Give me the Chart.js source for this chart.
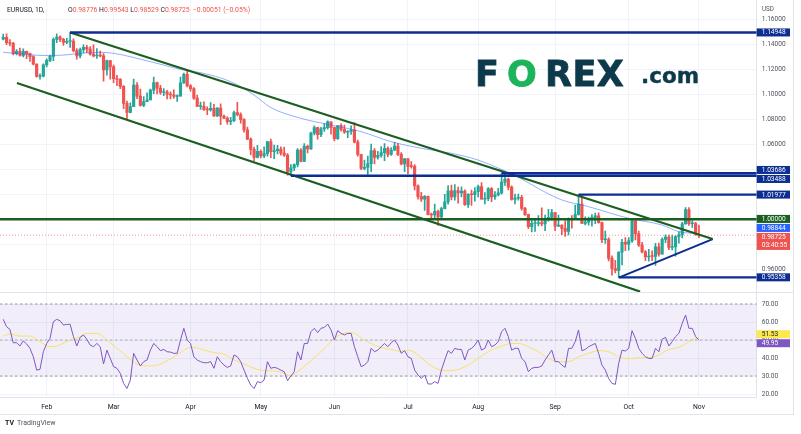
<!DOCTYPE html>
<html>
<head>
<meta charset="utf-8">
<script src="https://cdn.jsdelivr.net/npm/chart.js@4"></script>
<style>
  body { margin: 0; background: #fff; width: 801px; height: 434px; overflow: hidden; position: relative;
         font-family: Roboto, 'Noto Sans', sans-serif; color: #131722; }
  canvas { position: absolute; left: 0; }
  #priceChart { top: 0; }
  #rsiChart { top: 292px; }
  .t { position: absolute; white-space: nowrap; line-height: 1; }
  .hl { position: absolute; background: #e0e3eb; }
  .logo { position: absolute; white-space: nowrap; line-height: 1; font-family: 'DejaVu Sans', sans-serif; font-weight: bold;
          color: #0d3a4b; -webkit-text-stroke: 0.8px currentColor; }
</style>
</head>
<body>
<canvas id="priceChart" width="801" height="292"></canvas>
<canvas id="rsiChart" width="801" height="124"></canvas>
<div class="hl" style="left:0;top:292px;width:794px;height:1px"></div>
<div class="hl" style="left:0;top:414px;width:794px;height:1px"></div>
<div class="hl" style="left:793px;top:0;width:1px;height:415px"></div>

<div class="t" style="left:7px;top:7.4px;font-size:6.8px;color:#131722">EURUSD, 1D,</div>
<div class="t" style="left:68px;top:7.4px;font-size:6.8px;color:#131722">O<span style="color:#ef5350">0.98776</span>&nbsp;H<span style="color:#ef5350">0.99543</span>&nbsp;L<span style="color:#ef5350">0.98529</span>&nbsp;C<span style="color:#ef5350">0.98725&nbsp;&nbsp;−0.00051 (−0.05%)</span></div>
<div class="t" style="left:762px;top:6px;font-size:6.3px;color:#50535e">USD</div>

<div class="logo" style="left:475px;top:57px;font-size:35px">F</div>
<div class="logo" style="left:507px;top:57px;font-size:35px;color:#1cb45a">O</div>
<div class="logo" style="left:545px;top:57px;font-size:35px;letter-spacing:0.5px">REX</div>
<div class="logo" style="left:641px;top:65px;font-size:21.5px;-webkit-text-stroke:0.4px #0d3a4b">.com</div>

<div class="t" style="left:5px;top:420px;font-size:7px;font-weight:bold;color:#131722">TV</div>
<div class="t" style="left:17px;top:420px;font-size:7px;color:#50535e">TradingView</div>

<script>
// month ticks (bar index of first trading day) and labels
const monthIdx = [13, 33, 56, 77, 99, 121, 142, 165, 187, 208];
const monthLabels = ['Feb', 'Mar', 'Apr', 'May', 'Jun', 'Jul', 'Aug', 'Sep', 'Oct', 'Nov'];
const priceTicks = [0.96, 0.98, 1.00, 1.02, 1.04, 1.06, 1.08, 1.10, 1.12, 1.14, 1.16];
const rsiTicks = [20, 30, 40, 50, 60, 70];

// daily EURUSD candles, Jan 13 -> Nov 1 (bar index 0..208)
const opens = [1.1442,1.1455,1.1413,1.1408,1.1325,1.1344,1.1312,1.1343,1.1326,1.1301,
  1.1241,1.1144,1.1146,1.1235,1.1271,1.1303,1.1440,1.1457,1.1440,1.1416,
  1.1423,1.1425,1.1349,1.1307,1.1357,1.1375,1.1362,1.1322,1.1308,1.1310,
  1.1307,1.1195,1.1270,1.1219,1.1125,1.1120,1.1063,1.0928,1.0855,1.0902,
  1.1074,1.0985,1.0911,1.0941,1.0955,1.1033,1.1093,1.1050,1.1016,1.1017,
  1.1000,1.0996,1.0984,1.0985,1.1091,1.1160,1.1067,1.1046,1.0969,1.0903,
  1.0903,1.0878,1.0875,1.0888,1.0828,1.0890,1.0826,1.0810,1.0781,1.0790,
  1.0853,1.0838,1.0798,1.0715,1.0641,1.0559,1.0496,1.0544,1.0508,1.0525,
  1.0622,1.0541,1.0549,1.0561,1.0530,1.0513,1.0380,1.0412,1.0437,1.0553,
  1.0464,1.0584,1.0563,1.0690,1.0734,1.0677,1.0724,1.0733,1.0779,1.0733,
  1.0646,1.0750,1.0719,1.0697,1.0703,1.0716,1.0617,1.0519,1.0407,1.0416,
  1.0445,1.0549,1.0496,1.0512,1.0534,1.0568,1.0520,1.0553,1.0585,1.0519,
  1.0443,1.0484,1.0424,1.0423,1.0267,1.0182,1.0161,1.0184,1.0038,1.0036,
  1.0063,1.0020,1.0086,1.0140,1.0227,1.0179,1.0229,1.0211,1.0225,1.0118,
  1.0199,1.0197,1.0221,1.0262,1.0162,1.0166,1.0246,1.0180,1.0196,1.0211,
  1.0297,1.0321,1.0258,1.0159,1.0170,1.0176,1.0087,1.0037,0.9942,0.9967,
  0.9967,0.9974,0.9964,1.0008,1.0016,1.0054,0.9945,0.9953,0.9928,0.9903,
  1.0008,0.9998,1.0040,1.0121,0.9968,0.9978,0.9999,1.0016,1.0028,0.9973,
  0.9837,0.9837,0.9688,0.9605,0.9592,0.9738,0.9815,0.9802,0.9828,0.9987,
  0.9885,0.9793,0.9739,0.9700,0.9705,0.9704,0.9780,0.9722,0.9840,0.9857,
  0.9775,0.9780,0.9861,0.9877,0.9964,1.0078,0.9965,0.9965,0.98776];
const highs = [1.1482,1.1483,1.1437,1.1415,1.1357,1.1369,1.1363,1.1346,1.1329,1.1310,
  1.1244,1.1164,1.1244,1.1284,1.1313,1.1451,1.1484,1.1468,1.1447,1.1448,
  1.1495,1.1443,1.1366,1.1369,1.1395,1.1391,1.1382,1.1395,1.1366,1.1345,
  1.1325,1.1274,1.1272,1.1234,1.1152,1.1125,1.1069,1.0946,1.0932,1.1121,
  1.1093,1.1042,1.0982,1.1011,1.1042,1.1138,1.1098,1.1071,1.1045,1.1032,
  1.1020,1.1036,1.0996,1.1137,1.1170,1.1185,1.1077,1.1054,1.0993,1.0938,
  1.0939,1.0900,1.0933,1.0920,1.0893,1.0924,1.0834,1.0820,1.0815,1.0866,
  1.0936,1.0852,1.0805,1.0737,1.0652,1.0577,1.0592,1.0556,1.0580,1.0623,
  1.0641,1.0594,1.0591,1.0579,1.0578,1.0525,1.0437,1.0444,1.0565,1.0566,
  1.0606,1.0593,1.0697,1.0748,1.0737,1.0735,1.0765,1.0787,1.0780,1.0737,
  1.0750,1.0764,1.0753,1.0710,1.0748,1.0774,1.0634,1.0520,1.0474,1.0506,
  1.0601,1.0565,1.0544,1.0582,1.0606,1.0579,1.0573,1.0615,1.0606,1.0533,
  1.0487,1.0487,1.0462,1.0437,1.0276,1.0215,1.0190,1.0185,1.0050,1.0122,
  1.0074,1.0097,1.0200,1.0269,1.0274,1.0278,1.0257,1.0259,1.0235,1.0205,
  1.0234,1.0254,1.0274,1.0294,1.0214,1.0254,1.0253,1.0222,1.0248,1.0368,
  1.0364,1.0329,1.0268,1.0202,1.0201,1.0191,1.0096,1.0042,0.9998,0.9999,
  1.0029,1.0091,1.0033,1.0080,1.0079,1.0055,1.0033,0.9955,0.9988,1.0011,
  1.0029,1.0114,1.0198,1.0187,1.0019,1.0017,1.0037,1.0050,1.0052,0.9977,
  0.9906,0.9852,0.9707,0.9671,0.9740,0.9839,0.9854,0.9853,0.9999,0.9998,
  0.9906,0.9815,0.9750,0.9759,0.9748,0.9807,0.9809,0.9851,0.9876,0.9873,
  0.9874,0.9870,0.9900,0.9976,1.0094,1.0093,0.9990,0.9976,0.99543];
const lows = [1.1436,1.1397,1.1388,1.1316,1.1315,1.1305,1.1300,1.1286,1.1263,1.1235,
  1.1137,1.1121,1.1140,1.1219,1.1261,1.1270,1.1413,1.1421,1.1391,1.1405,
  1.1375,1.1340,1.1281,1.1292,1.1334,1.1333,1.1313,1.1300,1.1288,1.1299,
  1.1106,1.1153,1.1121,1.1094,1.1070,1.1045,1.0885,1.0806,1.0851,1.0902,
  1.0966,1.0906,1.0901,1.0941,1.0955,1.1005,1.1003,1.1000,1.0990,1.0963,
  1.0963,1.0967,1.0944,1.0985,1.1087,1.1059,1.1025,1.0959,1.0901,1.0880,
  1.0871,1.0838,1.0865,1.0823,1.0822,1.0758,1.0806,1.0761,1.0758,1.0781,
  1.0828,1.0770,1.0697,1.0637,1.0515,1.0470,1.0491,1.0491,1.0493,1.0505,
  1.0493,1.0485,1.0524,1.0514,1.0504,1.0354,1.0350,1.0389,1.0419,1.0460,
  1.0461,1.0532,1.0560,1.0675,1.0641,1.0662,1.0703,1.0722,1.0682,1.0627,
  1.0640,1.0705,1.0688,1.0654,1.0680,1.0611,1.0506,1.0398,1.0396,1.0359,
  1.0382,1.0444,1.0482,1.0497,1.0469,1.0499,1.0512,1.0552,1.0510,1.0436,
  1.0382,1.0365,1.0410,1.0236,1.0162,1.0144,1.0072,1.0035,0.9999,0.9998,
  0.9952,1.0006,1.0083,1.0122,1.0155,1.0153,1.0130,1.0180,1.0111,1.0095,
  1.0112,1.0146,1.0179,1.0161,1.0124,1.0150,1.0141,1.0160,1.0188,1.0202,
  1.0271,1.0235,1.0153,1.0123,1.0153,1.0074,1.0032,0.9926,0.9899,0.9903,
  0.9947,0.9948,0.9910,0.9985,0.9994,0.9910,0.9942,0.9877,0.9864,0.9876,
  0.9929,0.9997,1.0034,0.9967,0.9955,0.9954,0.9945,0.9966,0.9970,0.9813,
  0.9807,0.9668,0.9553,0.9571,0.9535,0.9636,0.9750,0.9753,0.9815,0.9836,
  0.9784,0.9731,0.9670,0.9666,0.9670,0.9632,0.9706,0.9721,0.9813,0.9757,
  0.9755,0.9705,0.9809,0.9852,0.9961,0.9952,0.9935,0.9871,0.98529];
const closes = [1.1455,1.1413,1.1408,1.1325,1.1344,1.1312,1.1343,1.1326,1.1301,1.1241,
  1.1144,1.1146,1.1235,1.1271,1.1303,1.1440,1.1457,1.1440,1.1416,1.1423,
  1.1425,1.1349,1.1307,1.1357,1.1375,1.1362,1.1322,1.1308,1.1310,1.1307,
  1.1195,1.1270,1.1219,1.1125,1.1120,1.1063,1.0928,1.0855,1.0902,1.1074,
  1.0985,1.0911,1.0941,1.0955,1.1033,1.1093,1.1050,1.1016,1.1017,1.1000,
  1.0996,1.0984,1.0985,1.1091,1.1160,1.1067,1.1046,1.0969,1.0903,1.0903,
  1.0878,1.0875,1.0888,1.0828,1.0890,1.0826,1.0810,1.0781,1.0790,1.0853,
  1.0838,1.0798,1.0715,1.0641,1.0559,1.0496,1.0544,1.0508,1.0525,1.0622,
  1.0541,1.0549,1.0561,1.0530,1.0513,1.0380,1.0412,1.0437,1.0553,1.0464,
  1.0584,1.0563,1.0690,1.0734,1.0677,1.0724,1.0733,1.0779,1.0733,1.0646,
  1.0750,1.0719,1.0697,1.0703,1.0716,1.0617,1.0519,1.0407,1.0416,1.0445,
  1.0549,1.0496,1.0512,1.0534,1.0568,1.0520,1.0553,1.0585,1.0519,1.0443,
  1.0484,1.0424,1.0423,1.0267,1.0182,1.0161,1.0184,1.0038,1.0036,1.0063,
  1.0020,1.0086,1.0140,1.0227,1.0179,1.0229,1.0211,1.0225,1.0118,1.0199,
  1.0197,1.0221,1.0262,1.0162,1.0166,1.0246,1.0180,1.0196,1.0211,1.0297,
  1.0321,1.0258,1.0159,1.0170,1.0176,1.0087,1.0037,0.9942,0.9967,0.9967,
  0.9974,0.9964,1.0008,1.0016,1.0054,0.9945,0.9953,0.9928,0.9903,1.0008,
  0.9998,1.0040,1.0121,0.9968,0.9978,0.9999,1.0016,1.0028,0.9973,0.9837,
  0.9837,0.9688,0.9605,0.9592,0.9738,0.9815,0.9802,0.9828,0.9987,0.9885,
  0.9793,0.9739,0.9700,0.9705,0.9704,0.9780,0.9722,0.9840,0.9857,0.9775,
  0.9780,0.9861,0.9877,0.9964,1.0078,0.9965,0.9965,0.9881,0.98725];

// moving average on price (read at sparse bars)
const maIdx  = [0, 14, 29, 33, 44, 54, 59, 68, 75, 80, 89, 98, 107, 116, 125, 134, 142, 148, 154, 160, 167, 175, 187, 197, 202, 208];
const maVals = [1.1336, 1.1309, 1.1336, 1.1328, 1.1261, 1.1194, 1.1173, 1.1101, 1.0994, 1.0894, 1.0808, 1.0754, 1.0701,
  1.0621, 1.0568, 1.0528, 1.0474, 1.0410, 1.0338, 1.0246, 1.0155, 1.0101, 1.0008, 0.9954, 0.9901, 0.98844];

// RSI(14), one value per bar
const rsiVals = [61.5,57.4,55.9,48.5,48.5,46.7,49.5,47.8,45.4,40.7,
  33.3,33.7,43.5,48.1,50.9,60.2,61.5,60.7,58.3,58.7,
  58.7,51.9,46.7,51.5,52.8,50.4,47.2,46.3,48.1,46.3,
  36.7,44.4,39.8,35.2,34.3,31.5,25.9,23.1,27.8,42.6,
  38.9,35.6,38.0,38.9,44.4,48.1,46.3,44.1,44.8,43.5,
  43.3,42.6,42.6,50.0,56.5,50.0,48.1,40.7,38.9,38.0,
  37.4,37.4,38.0,34.3,40.7,38.0,36.1,34.8,35.6,41.7,
  40.7,38.0,33.3,28.7,25.0,23.1,26.9,26.3,27.8,38.0,
  34.3,34.8,34.3,33.3,32.4,27.4,30.0,32.4,43.5,38.9,
  48.1,48.1,54.6,56.5,54.1,56.5,57.0,58.9,55.6,50.0,
  55.2,53.7,52.8,53.7,53.7,46.3,40.7,35.2,36.1,38.0,
  45.4,43.5,44.4,46.3,48.1,46.3,48.5,50.0,47.2,42.6,
  44.1,40.7,39.8,33.3,30.6,28.7,30.6,25.6,25.6,26.9,
  25.9,33.3,38.9,44.1,42.6,45.4,44.8,44.8,38.9,44.4,
  45.4,47.2,50.0,44.4,45.4,50.0,46.3,47.2,49.1,54.6,
  56.5,51.9,44.4,45.4,45.4,39.8,38.0,32.4,34.3,34.8,
  34.8,35.6,38.9,41.7,44.4,38.0,38.0,36.1,34.8,45.4,
  45.4,49.1,55.6,44.1,44.8,46.3,47.2,48.1,42.6,36.1,
  33.3,28.7,25.9,25.4,37.0,44.4,43.9,45.4,55.2,50.9,
  45.4,42.6,40.7,39.8,39.8,45.4,43.5,50.4,51.5,46.7,
  49.1,51.9,53.7,59.3,63.9,56.5,56.5,51.9,49.95];

// RSI signal line (read at sparse bars)
const rsiMaIdx  = [0, 2, 5, 8, 11, 14, 16, 19, 22, 25, 28, 31, 34, 37, 40, 43, 46, 49, 52, 55, 57, 60, 63, 66, 69, 72, 75, 78, 81, 84, 86, 88,
  91, 94, 97, 100, 103, 105, 108, 111, 114, 117, 119, 121, 124, 127, 130, 133, 136, 139, 142, 145, 148, 151, 154, 157, 160, 163, 166,
  169, 172, 175, 178, 181, 184, 187, 190, 193, 196, 199, 202, 204, 206, 208];
const rsiMaVals = [52.2, 53.3, 52.2, 52.2, 49.1, 46.3, 46.7, 49.1, 50.9, 53.7, 53.7, 50.0, 45.4, 40.7, 36.7, 35.6, 36.1, 38.5, 41.7, 45.4,
  45.9, 44.4, 43.0, 42.2, 38.9, 36.7, 34.3, 33.0, 32.8, 31.5, 30.0, 32.4, 37.0, 41.7, 47.2, 52.2, 54.1, 53.7, 50.0, 47.2, 45.4, 44.4,
  43.5, 44.4, 41.7, 37.0, 33.7, 33.0, 33.7, 36.1, 39.8, 43.5, 45.9, 47.8, 48.1, 46.3, 43.5, 39.8, 38.0, 38.0, 40.7, 42.6, 44.1, 43.5,
  40.7, 39.6, 40.2, 40.2, 41.7, 44.8, 45.9, 48.1, 50.0, 51.53];

// drawn levels and trendlines (bar index, price)
const levelVals = [1.14948, 1.03686, 1.03488, 1.01977, 0.95358];
const levelFrom = [20, 149, 86, 172, 184];
const parityLevel = 1.00000;
const upperTrend = [[20, 1.1495], [212.1, 0.9842]];
const lowerTrend = [[4.1, 1.1090], [190.4, 0.9422]];
const triangleBase = [[184.2, 0.9535], [212.1, 0.9842]];
const clockText = '03:40:55';

const X_MIN = -0.96, X_MAX = 225.26;
const AXIS_W = 44.3;
const NAVY = '#0c2d91', GREEN = '#1b5e20', UP = '#26a69a', DOWN = '#ef5350';
const GRID = '#f0f3fa';

Chart.defaults.font.family = 'Roboto';
Chart.defaults.font.size = 6.6;
Chart.defaults.color = '#50535e';

function layoutTags(items, gap) {
  items.sort((a, b) => a.y - b.y);
  const blocks = [];
  items.forEach(it => {
    blocks.push({ items: [it], top: it.y - it.h / 2, size: it.h });
    while (blocks.length > 1) {
      const p = blocks[blocks.length - 2], c = blocks[blocks.length - 1];
      if (p.top + p.size + gap <= c.top) break;
      const all = p.items.concat(c.items);
      let off = 0, sum = 0;
      all.forEach(i => { sum += (i.y - i.h / 2) - off; off += i.h + gap; });
      blocks.splice(-2, 2, { items: all, top: sum / all.length, size: off - gap });
    }
  });
  blocks.forEach(b => { let t = b.top; b.items.forEach(i => { i.top = t; t += i.h + gap; }); });
}

const axisTags = {
  id: 'axisTags',
  afterDraw(chart, args, opts) {
    const ctx = chart.ctx, ys = chart.scales.y, area = chart.chartArea;
    const items = opts.tags.map(t => ({ ...t, y: ys.getPixelForValue(t.value), h: t.sub ? 17 : 8 }));
    layoutTags(items, 1);
    ctx.save();
    ctx.font = '6.6px Roboto';
    ctx.textBaseline = 'middle';
    items.forEach(it => {
      ctx.fillStyle = it.bg;
      ctx.fillRect(area.right, it.top, 33.3, it.h);
      ctx.fillStyle = it.fg;
      ctx.fillText(it.text, area.right + 5, it.top + 4.3);
      if (it.sub) ctx.fillText(it.sub, area.right + 5, it.top + 12.8);
    });
    ctx.restore();
  }
};

const pts = arr => arr.map(p => ({ x: p[0], y: p[1] }));
const lineDs = (data, color, width, extra) => Object.assign({
  type: 'line', data, borderColor: color, borderWidth: width, pointRadius: 0, fill: false, order: 0
}, extra || {});
const candleColors = closes.map((c, i) => c >= opens[i] ? UP : DOWN);
const lastClose = closes[closes.length - 1];
const lastMa = maVals[maVals.length - 1];

const xScale = (showLabels) => ({
  type: 'linear', min: X_MIN, max: X_MAX, offset: false,
  afterBuildTicks: s => { s.ticks = monthIdx.map(v => ({ value: v })); },
  afterFit: s => { s.height = showLabels ? 18.7 : 0; s.paddingLeft = 0; s.paddingRight = 0; },
  ticks: {
    display: showLabels, autoSkip: false, maxRotation: 0, padding: 5.6, color: '#131722',
    font: { size: 6.8 },
    callback: v => monthLabels[monthIdx.indexOf(v)]
  },
  grid: { color: GRID, drawTicks: false, offset: false },
  border: { display: showLabels, color: '#e0e3eb' }
});

new Chart(document.getElementById('priceChart'), {
  type: 'bar',
  data: {
    datasets: [
      ...levelVals.map((v, i) => lineDs([{ x: levelFrom[i], y: v }, { x: X_MAX, y: v }], NAVY, 2.4)),
      lineDs([{ x: X_MIN, y: parityLevel }, { x: X_MAX, y: parityLevel }], GREEN, 2.4),
      lineDs(pts(upperTrend), GREEN, 2.2),
      lineDs(pts(lowerTrend), GREEN, 2.2),
      lineDs(pts(triangleBase), NAVY, 2),
      lineDs([{ x: X_MIN, y: lastClose }, { x: X_MAX, y: lastClose }], 'rgba(239,83,80,0.6)', 1, { borderDash: [1, 2], order: 1 }),
      lineDs(maIdx.map((x, i) => ({ x, y: maVals[i] })), 'rgba(41,98,255,0.5)', 1, { cubicInterpolationMode: 'monotone', order: 1 }),
      {
        type: 'bar', data: closes.map((c, i) => ({ x: i, y: [opens[i], c] })),
        backgroundColor: candleColors, barThickness: 2.5, minBarLength: 0.8, grouped: false, order: 2
      },
      {
        type: 'bar', data: closes.map((c, i) => ({ x: i, y: [lows[i], highs[i]] })),
        backgroundColor: candleColors, barThickness: 1, grouped: false, order: 3
      }
    ]
  },
  options: {
    responsive: false, animation: false, events: [],
    layout: { padding: 0 },
    plugins: {
      legend: { display: false }, tooltip: { enabled: false },
      axisTags: {
        tags: [
          ...levelVals.map(v => ({ value: v, text: v.toFixed(5), bg: NAVY, fg: '#fff' })),
          { value: parityLevel, text: parityLevel.toFixed(5), bg: GREEN, fg: '#fff' },
          { value: lastMa, text: lastMa.toFixed(5), bg: '#2962ff', fg: '#fff' },
          { value: lastClose, text: lastClose.toFixed(5), sub: clockText, bg: '#ef5350', fg: '#fff' }
        ]
      }
    },
    scales: {
      x: xScale(false),
      y: {
        position: 'right', min: 0.94184, max: 1.17544,
        afterBuildTicks: s => { s.ticks = priceTicks.map(v => ({ value: v })); },
        afterFit: s => { s.width = AXIS_W; s.paddingTop = 0; s.paddingBottom = 0; },
        ticks: { padding: 5, callback: v => v.toFixed(5) },
        grid: { color: GRID, drawTicks: false },
        border: { color: '#e0e3eb' }
      }
    }
  },
  plugins: [axisTags]
});

const lastRsi = rsiVals[rsiVals.length - 1];
const lastRsiMa = rsiMaVals[rsiMaVals.length - 1];

new Chart(document.getElementById('rsiChart'), {
  type: 'line',
  data: {
    datasets: [
      lineDs([{ x: X_MIN, y: 70 }, { x: X_MAX, y: 70 }], '#9598a1', 1, { borderDash: [2.5, 2.5], order: 3 }),
      lineDs([{ x: X_MIN, y: 30 }, { x: X_MAX, y: 30 }], '#9598a1', 1,
        { borderDash: [2.5, 2.5], fill: '-1', backgroundColor: 'rgba(126,87,194,0.1)', order: 3 }),
      lineDs([{ x: X_MIN, y: 50 }, { x: X_MAX, y: 50 }], 'rgba(149,152,161,0.7)', 1, { borderDash: [2.5, 2.5], order: 3 }),
      lineDs(rsiMaIdx.map((x, i) => ({ x, y: rsiMaVals[i] })), 'rgba(246,222,70,0.8)', 1, { cubicInterpolationMode: 'monotone', order: 1 }),
      lineDs(rsiVals.map((v, i) => ({ x: i, y: v })), '#7e57c2', 1, { order: 0 })
    ]
  },
  options: {
    responsive: false, animation: false, events: [],
    layout: { padding: 0 },
    plugins: {
      legend: { display: false }, tooltip: { enabled: false },
      axisTags: {
        tags: [
          { value: lastRsiMa, text: lastRsiMa.toFixed(2), bg: '#fce94f', fg: '#131722' },
          { value: lastRsi, text: lastRsi.toFixed(2), bg: '#7e57c2', fg: '#fff' }
        ]
      }
    },
    scales: {
      x: xScale(true),
      y: {
        position: 'right', min: 18.2, max: 76.67,
        afterBuildTicks: s => { s.ticks = rsiTicks.map(v => ({ value: v })); },
        afterFit: s => { s.width = AXIS_W; s.paddingTop = 0; s.paddingBottom = 0; },
        ticks: { padding: 5, callback: v => v.toFixed(2) },
        grid: { color: GRID, drawTicks: false },
        border: { color: '#e0e3eb' }
      }
    }
  },
  plugins: [axisTags]
});
</script>
</body>
</html>
